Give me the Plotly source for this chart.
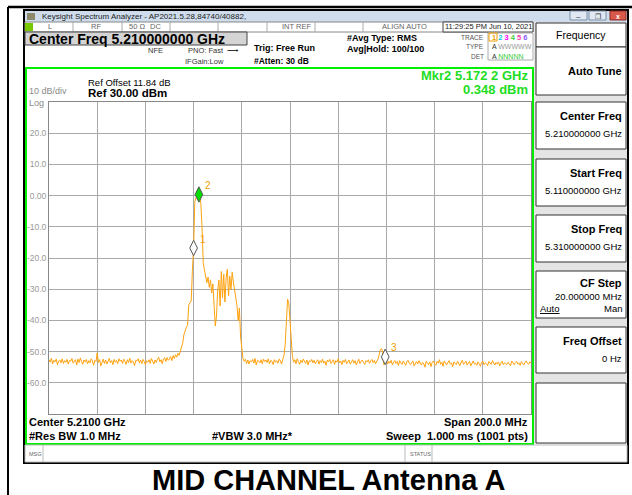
import plotly.graph_objects as go

# sweep: 5.110 GHz .. 5.310 GHz, trace read every 0.5 MHz
f_start_ghz = 5.110
f_step_ghz = 0.0005
trace_dbm = [
    # 5.110
    -52.6, -53.4, -52.1, -53.9, -52.8, -53.3, -52.4, -54.2, -53.0, -52.7, -53.6, -52.3, -53.8, -52.9, -53.4, -52.5, -54.0, -52.8, -53.1, -52.2,
    # 5.120
    -53.7, -53.0, -52.6, -54.3, -52.4, -53.5, -52.0, -53.2, -54.1, -52.7, -53.3, -52.5, -53.9, -52.9, -53.6, -52.3, -53.0, -54.4, -52.8, -53.2,
    # 5.130
    -50.4, -53.5, -52.6, -54.6, -53.1, -52.4, -53.8, -52.7, -54.0, -53.3, -52.2, -53.6, -52.9, -54.2, -52.5, -53.4, -52.8, -53.9, -52.3, -53.1,
    # 5.140
    -52.7, -53.8, -52.4, -53.2, -54.1, -52.6, -53.5, -52.1, -53.7, -52.9, -53.3, -54.5, -52.8, -53.0, -52.3, -53.6, -52.7, -53.9, -52.5, -53.2,
    # 5.150
    -54.2, -52.9, -53.4, -52.6, -53.8, -52.2, -53.1, -54.0, -52.7, -53.5, -52.4, -51.8, -53.3, -52.6, -53.9, -52.3, -52.0, -53.2, -51.9, -52.8,
    # 5.160
    -52.4, -51.6, -52.9, -51.3, -52.2, -51.0, -51.8, -50.6, -51.2, -49.8, -48.9, -47.2, -44.5, -43.0, -42.2, -41.6, -35.0, -34.4, -33.8, -24.0,
    # 5.170
    -16.8, -2.0, -0.6, -0.1, 0.35, -0.3, -2.4, -10.2, -21.5, -23.8, -25.6, -27.9, -26.1, -29.4, -27.0, -31.2, -28.3, -33.5, -41.8, -38.6,
    # 5.180
    -30.2, -27.1, -35.4, -24.3, -32.8, -25.2, -34.1, -26.4, -23.6, -32.2, -25.8, -30.1, -24.6, -27.7, -30.6, -33.4, -35.2, -40.1, -36.0, -45.3,
    # 5.190
    -49.8, -52.3, -53.1, -52.4, -53.8, -52.7, -54.0, -52.9, -53.3, -52.5, -53.7, -52.2, -54.3, -52.8, -53.0, -53.6, -52.6, -53.9, -52.4, -53.2,
    # 5.200
    -52.7, -53.5, -52.3, -53.9, -52.8, -53.1, -54.2, -52.6, -53.4, -52.9, -53.7, -52.4, -53.0, -54.0, -52.5, -51.2, -47.8, -37.5, -33.2, -34.5,
    # 5.210
    -40.8, -47.5, -51.6, -53.4, -52.6, -53.9, -52.3, -53.2, -54.1, -52.8, -53.5, -52.4, -53.0, -53.8, -52.7, -54.3, -52.9, -53.3, -52.5, -53.6,
    # 5.220
    -52.8, -53.9, -53.2, -52.6, -54.0, -52.9, -53.5, -52.4, -53.7, -53.1, -54.4, -52.7, -53.3, -52.5, -53.8, -53.0, -52.6, -54.1, -52.9, -53.4,
    # 5.230
    -52.3, -53.6, -53.0, -54.2, -52.8, -53.4, -52.5, -53.9, -53.1, -52.7, -54.0, -53.3, -52.6, -53.7, -52.9, -54.3, -53.2, -52.4, -53.8, -53.0,
    # 5.240
    -52.7, -53.5, -54.1, -52.9, -53.3, -52.6, -53.8, -53.0, -52.5, -53.6, -52.8, -53.9, -53.2, -52.4, -51.0, -49.3, -49.0, -50.2, -54.2, -51.7,
    # 5.250
    -52.6, -54.0, -53.1, -53.7, -52.8, -54.3, -53.4, -52.9, -53.8, -53.2, -54.5, -52.9, -53.6, -54.1, -53.0, -53.9, -54.4, -53.3, -52.8, -53.7,
    # 5.260
    -54.2, -53.5, -53.0, -54.6, -53.8, -53.2, -54.0, -52.9, -53.7, -54.3, -53.4, -53.9, -55.0, -53.1, -53.6, -54.2, -53.3, -54.8, -53.5, -53.0,
    # 5.270
    -53.9, -54.4, -53.2, -53.7, -52.6, -54.1, -53.4, -54.7, -53.0, -53.8, -54.3, -53.5, -52.9, -54.0, -53.6, -54.9, -53.3, -53.8, -54.2, -53.1,
    # 5.280
    -53.7, -54.5, -53.4, -52.8, -54.1, -53.6, -53.1, -54.3, -53.9, -53.2, -54.6, -53.5, -53.0, -54.0, -53.7, -54.4, -53.3, -53.8, -54.7, -53.4,
    # 5.290
    -53.1, -54.2, -53.6, -53.9, -54.5, -53.2, -53.7, -54.1, -52.9, -53.8, -54.3, -53.5, -54.0, -53.3, -54.6, -53.7, -53.1, -54.2, -53.6, -53.9,
    # 5.300
    -54.1, -53.4, -53.8, -54.5, -53.0, -53.9, -54.2, -53.5, -53.1, -54.0, -53.6, -54.4, -53.2, -53.8, -54.3, -53.5, -53.0, -53.7, -54.1, -53.3,
    # 5.310
    -53.6,
]
freq_ghz = [round(f_start_ghz + i * f_step_ghz, 4) for i in range(len(trace_dbm))]

mkr_names = ["1", "2", "3"]
mkr_freq = [5.1700, 5.1722, 5.2495]
mkr_dbm = [-16.8, 0.348, -51.7]
mkr_fill = ["white", "#00dd00", "white"]

ytick_vals = [20, 10, 0, -10, -20, -30, -40, -50, -60]
ytick_text = ["20.0", "10.0", "0.00", "-10.0", "-20.0", "-30.0", "-40.0", "-50.0", "-60.0"]
xgrid_vals = [5.13, 5.15, 5.17, 5.19, 5.21, 5.23, 5.25, 5.27, 5.29]

# plot area in screen pixels
X0, X1, Y0, Y1 = 49, 531, 102, 414
FONT = "Liberation Sans, Arial, sans-serif"


def px(x):
    return (x - X0) / (X1 - X0)


def py(y):
    return (Y1 - y) / (Y1 - Y0)


shapes = []
annos = []


def rect(x0, y0, x1, y1, fill=None, line=None, w=1):
    shapes.append(dict(type="rect", xref="paper", yref="paper",
                       x0=px(x0), y0=py(y0), x1=px(x1), y1=py(y1),
                       fillcolor=fill if fill else "rgba(0,0,0,0)",
                       line=dict(color=line if line else "rgba(0,0,0,0)", width=w)))


def hline(x0, x1, y, color="black", w=1):
    shapes.append(dict(type="line", xref="paper", yref="paper",
                       x0=px(x0), x1=px(x1), y0=py(y), y1=py(y),
                       line=dict(color=color, width=w)))


def vline(x, y0, y1, color="black", w=1):
    shapes.append(dict(type="line", xref="paper", yref="paper",
                       x0=px(x), x1=px(x), y0=py(y0), y1=py(y1),
                       line=dict(color=color, width=w)))


def text(x, y, s, size=9, color="black", anchor="left", bold=False, family=FONT):
    if bold:
        s = "<b>" + s + "</b>"
    annos.append(dict(xref="paper", yref="paper", x=px(x), y=py(y), text=s,
                      showarrow=False, xanchor=anchor, yanchor="middle",
                      font=dict(family=family, size=size, color=color)))


# outer page lines and window frame
hline(8, 632, 7, "black", 2.5)
vline(8, 7, 495, "black", 2)
rect(24, 10, 628, 463, None, "black", 2)
rect(25, 11, 627, 22, "#cfdcec")
rect(27, 13, 35, 20, "#8c8a6a")
text(40, 16.5, "Keysight Spectrum Analyzer - AP2021.5.28,84740/40882,", 8, "#222")
rect(570, 11, 587, 20, "#dfe8f3", "#7d8fa8")
rect(589, 11, 606, 20, "#dfe8f3", "#7d8fa8")
rect(610, 11, 626, 20, "#d9594c", "#8b2a22")
text(578.5, 16, "–", 8, "#333", "center")
text(597.5, 16, "❐", 7, "#333", "center")
text(618, 16, "x", 7, "white", "center", True)

# status row
rect(25, 22, 533, 32, "white", "#888")
rect(25, 23, 33, 31, "#77c800")
for sx in [73, 122, 170, 218, 267, 315, 363]:
    vline(sx, 22, 32, "#aaa")
text(50, 27, "L", 7.5, "#666", "center")
text(96, 27, "RF", 7.5, "#666", "center")
text(127, 27, "50 Ω", 7.5, "#666")
text(148, 27, "DC", 7.5, "#666")
text(313, 27, "INT REF", 7.5, "#666", "right")
text(404, 27, "ALIGN AUTO", 7.5, "#666", "center")
rect(443, 22, 533, 32, "white", "#444")
text(488, 27, "11:29:25 PM Jun 10, 2021", 7.5, "#222", "center")

# header settings
rect(25, 32, 247, 45, "#d4d4d4", "#444")
text(27, 38.5, "Center Freq 5.210000000 GHz", 14, "black", bold=True)
text(155, 51, "NFE", 7.5, "#333", "center")
text(186, 51, "PNO: Fast  ⟶", 7.5, "#333")
text(183, 61, "IFGain:Low", 7.5, "#333")
text(252, 48, "Trig: Free Run", 9, "black", bold=True)
text(252, 61, "#Atten: 30 dB", 8.5, "black", bold=True)
text(345, 38, "#Avg Type: RMS", 9, "black", bold=True)
text(345, 49, "Avg|Hold: 100/100", 9, "black", bold=True)

rect(488, 33, 533, 60, "white", "#aaa")
rect(489, 33, 497, 41, None, "#f0a000")
text(486, 37, "TRACE", 6.5, "#555", "right")
text(486, 46.5, "TYPE", 6.5, "#555", "right")
text(486, 56, "DET", 6.5, "#555", "right")
text(490, 37,
     "<span style='color:#f0a000'>1</span> <span style='color:#00c8e0'>2</span> "
     "<span style='color:#ff00ff'>3</span> <span style='color:#40d040'>4</span> "
     "<span style='color:#ff3caa'>5</span> <span style='color:#8a5cff'>6</span>",
     7.5, "black", bold=True)
text(490, 46.5, "A <span style='color:#999'>WWWWW</span>", 7, "#333")
text(490, 56, "A <span style='color:#33cc33'>NNNNN</span>", 7, "#333")

# graticule frame and readouts
rect(26, 68, 533, 444, None, "#00ee00", 2)
text(86, 82, "Ref Offset 11.84 dB", 9.5, "black")
text(86, 93, "Ref 30.00 dBm", 11.5, "black", bold=True)
text(27, 91.5, "10 dB/div", 9, "#8a8a8a")
text(27, 102.5, "Log", 9, "#8a8a8a")
text(530, 75, "Mkr2 5.172 2 GHz", 13, "#22dd22", "right", True)
text(530, 90, "0.348 dBm", 13, "#22dd22", "right", True)

text(27, 422, "Center 5.2100 GHz", 11, "black", bold=True)
text(27, 436, "#Res BW 1.0 MHz", 11, "black", bold=True)
text(210, 436, "#VBW 3.0 MHz*", 11, "black", bold=True)
text(530, 422, "Span 200.0 MHz", 11, "black", "right", True)
text(530, 436, "Sweep  1.000 ms (1001 pts)", 11, "black", "right", True)

# message row
rect(25, 445, 627, 462, "white", "#bbb")
vline(43, 445, 462, "#bbb")
vline(405, 445, 462, "#bbb")
vline(432, 445, 462, "#bbb")
text(27, 453.5, "MSG", 5.5, "#666")
text(408, 453.5, "STATUS", 5.5, "#666")

# softkey panel
rect(534, 22, 627, 444, "#e4e4e4")
panel = [
    (23, 47, "Frequency", None),
    (47, 95, "Auto Tune", None),
    (102, 149, "Center Freq", "5.210000000 GHz"),
    (159, 206, "Start Freq", "5.110000000 GHz"),
    (215, 262, "Stop Freq", "5.310000000 GHz"),
    (271, 318, "CF Step", "20.000000 MHz"),
    (327, 373, "Freq Offset", "0 Hz"),
    (383, 443, "", None),
]
for top, bot, title, value in panel:
    rect(536, top, 626, bot, "white", "#333")
    if title == "Frequency":
        text(581, 35, title, 10.5, "black", "center")
    elif title == "Auto Tune":
        text(624, 71, title, 11, "black", "right", True)
    elif title == "CF Step":
        text(624, top + 12, title, 11, "black", "right", True)
        text(624, top + 25, value, 9.5, "black", "right")
        text(538, top + 37, "<u>Auto</u>", 9.5, "black")
        text(624, top + 37, "Man", 9.5, "black", "right")
    elif title:
        text(624, top + 14, title, 11, "black", "right", True)
        text(624, top + 31, value, 9.5, "black", "right")

# caption under the screenshot
text(328, 480, "MID CHANNEL Antenna A", 29, "black", "center", True)

fig = go.Figure()
fig.add_trace(go.Scatter(x=freq_ghz, y=trace_dbm, mode="lines",
                         line=dict(color="#ffa20f", width=1), hoverinfo="skip"))
fig.add_trace(go.Scatter(x=mkr_freq, y=mkr_dbm, mode="markers",
                         marker=dict(symbol="diamond-tall", size=11, color=mkr_fill,
                                     line=dict(color="#555", width=1))))
for n, f, v in zip(mkr_names, mkr_freq, mkr_dbm):
    annos.append(dict(x=f, y=v, xref="x", yref="y", text=n, showarrow=False,
                      xshift=9, yshift=9, font=dict(family=FONT, size=10, color="#f0a000")))

fig.update_layout(
    width=632, height=495,
    margin=dict(l=X0, r=632 - X1, t=Y0, b=495 - Y1),
    paper_bgcolor="white", plot_bgcolor="white",
    showlegend=False,
    shapes=shapes, annotations=annos,
    xaxis=dict(range=[5.11, 5.31], tickvals=xgrid_vals, showticklabels=False,
               showgrid=True, gridcolor="#a9a9a9", gridwidth=1, zeroline=False,
               showline=True, linecolor="#888", mirror=True, ticks=""),
    yaxis=dict(range=[-70, 30], tickvals=ytick_vals, ticktext=ytick_text,
               showgrid=True, gridcolor="#a9a9a9", gridwidth=1, zeroline=False,
               showline=True, linecolor="#888", mirror=True, ticks="",
               tickfont=dict(family=FONT, size=8.5, color="#999")),
)

# page body has a default 8px margin; drop it so the figure sits at the window origin
fig.write_html("out.html", config={"displayModeBar": False},
               post_script="document.body.style.margin='0';")
